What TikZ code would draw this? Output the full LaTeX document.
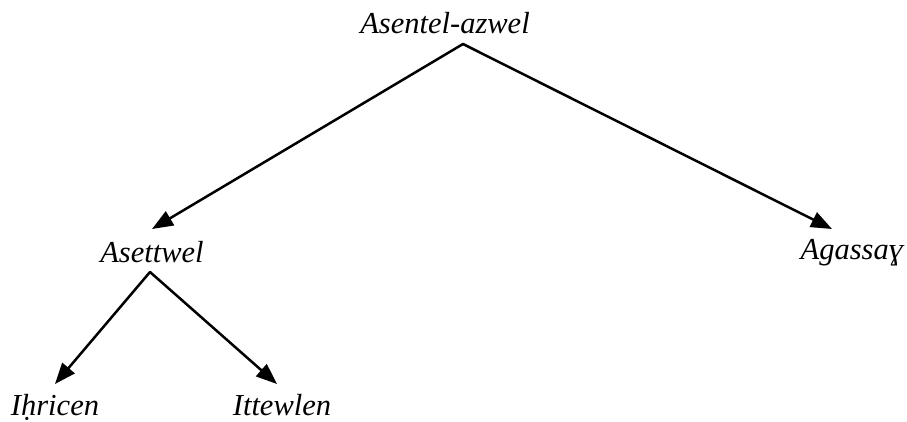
\documentclass[tikz,border=0pt]{standalone}
\usepackage{fontspec}
\setmainfont{Liberation Serif}
\usetikzlibrary{arrows.meta}
\begin{document}
\begin{tikzpicture}[x=1pt,y=-1pt,
  term/.style={font=\fontsize{30.5}{36}\selectfont\itshape, anchor=base, inner sep=0pt},
  link/.style={line width=2.5pt, line cap=round, -{Triangle[length=21pt,width=16pt]}}]
  \useasboundingbox (0,0) rectangle (907,421);
  % terms of the tree
  \node[term] (root)  at (445,33)  {Asentel-azwel};
  \node[term] (left)  at (152,262) {Asettwel};
  \node[term] (right) at (852,259) {Agassaɣ};
  \node[term] (ll)    at (55,415)  {Iḥricen};
  \node[term] (lr)    at (282,415) {Ittewlen};
  % branching points below each parent
  \coordinate (rootfork) at (463,44);
  \coordinate (leftfork) at (150,272);
  % arrow tips above each child
  \coordinate (lefttip)  at (152,229);
  \coordinate (righttip) at (832,229);
  \coordinate (lltip)    at (55,384);
  \coordinate (lrtip)    at (277,384);
  % branches
  \draw[link] (rootfork) -- (lefttip);
  \draw[link] (rootfork) -- (righttip);
  \draw[link] (leftfork) -- (lltip);
  \draw[link] (leftfork) -- (lrtip);
\end{tikzpicture}
\end{document}
